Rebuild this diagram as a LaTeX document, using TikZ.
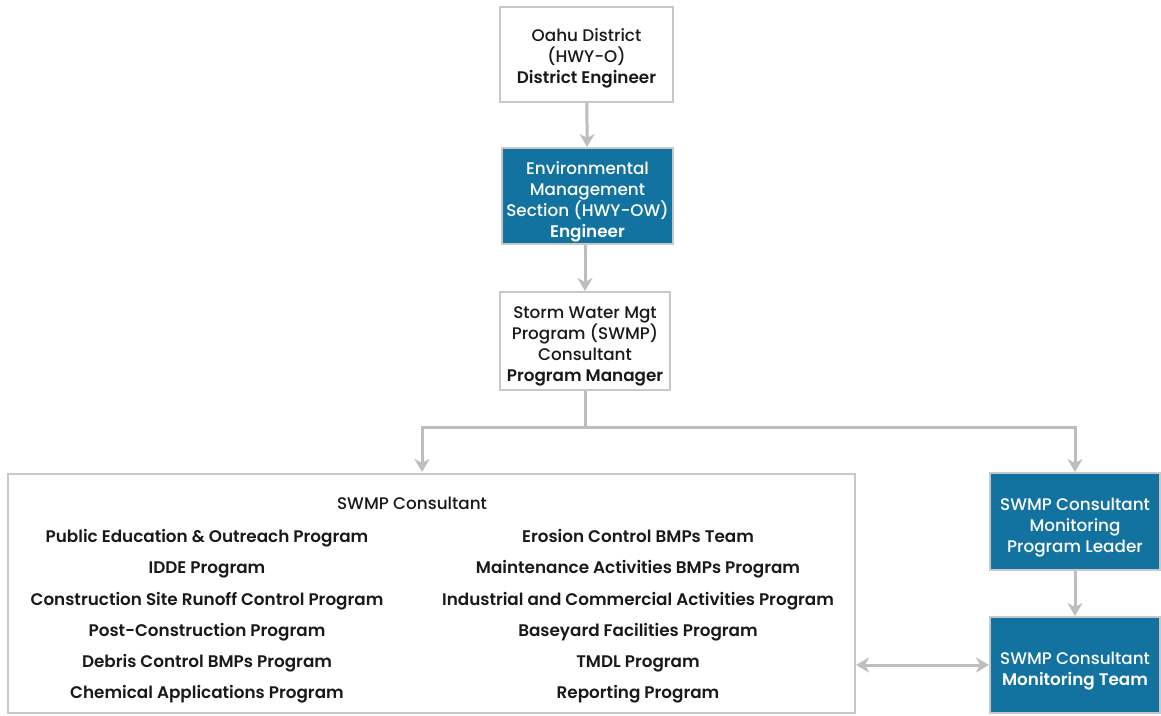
\documentclass[tikz,border=0pt]{standalone}
\usepackage{fontspec}
\setmainfont{Poppins}[UprightFont=* Medium, BoldFont=* SemiBold]
\usetikzlibrary{arrows.meta}
\definecolor{boxgray}{RGB}{200,200,200}
\definecolor{linegray}{RGB}{190,190,192}
\definecolor{bluefill}{RGB}{18,115,160}
\definecolor{txt}{RGB}{25,25,25}
\tikzset{
  box/.style={draw=boxgray, line width=2pt, fill=white, inner sep=0pt},
  bluebox/.style={box, fill=bluefill},
  boxtext/.style={text=txt, align=center, inner sep=0pt, font=\fontsize{16.8}{21}\selectfont},
  bluetext/.style={boxtext, text=white},
  item/.style={text=txt, inner sep=0pt, anchor=base, font=\fontsize{16.8}{21}\selectfont\bfseries},
  conn/.style={draw=linegray, line width=3pt},
  arr/.style={conn, -{Stealth[length=13pt,width=15pt,inset=4pt]}},
  darr/.style={conn, {Stealth[length=13pt,width=15pt,inset=4pt]}-{Stealth[length=13pt,width=15pt,inset=4pt]}}
}
\begin{document}
\begin{tikzpicture}[x=1pt,y=-1pt]
\useasboundingbox[fill=white] (0,0) rectangle (1161,715);
\node[box, minimum width=173pt, minimum height=95pt] (oahu) at (586.5,54.5) {};
\node[boxtext] (oahu-t) at ([yshift=-4pt]oahu.center)
  {Oahu District\\(HWY-O)\\\textbf{District Engineer}};
\node[bluebox, minimum width=171pt, minimum height=96pt] (env) at (587.5,196) {};
\node[bluetext] (env-t) at ([yshift=-6pt]env.center)
  {Environmental\\Management\\Section (HWY-OW)\\\textbf{Engineer}};
\node[box, minimum width=170pt, minimum height=98pt] (swmp) at (585,341) {};
\node[boxtext] (swmp-t) at ([yshift=-5pt]swmp.center)
  {Storm Water Mgt\\Program (SWMP)\\Consultant\\\textbf{Program Manager}};
\node[box, minimum width=847pt, minimum height=239pt] (big) at (431.5,593.5) {};
\node[bluebox, minimum width=170pt, minimum height=97pt] (lead) at (1075,521.5) {};
\node[bluetext] (lead-t) at ([yshift=-6pt]lead.center)
  {SWMP Consultant\\Monitoring\\Program Leader};
\node[bluebox, minimum width=170pt, minimum height=96pt] (team) at (1075,665) {};
\node[bluetext] (team-t) at ([yshift=-6pt]team.center)
  {SWMP Consultant\\\textbf{Monitoring Team}};
\node[text=txt, inner sep=0pt, anchor=base, font=\fontsize{16.8}{21}\selectfont] (title) at (412,509) {SWMP Consultant};
\node[item] (l1) at (207,542) {Public Education \& Outreach Program};
\node[item] (l2) at (207,573) {IDDE Program};
\node[item] (l3) at (207,605) {Construction Site Runoff Control Program};
\node[item] (l4) at (207,636) {Post-Construction Program};
\node[item] (l5) at (207,667) {Debris Control BMPs Program};
\node[item] (l6) at (207,698) {Chemical Applications Program};
\node[item] (r1) at (638,542) {Erosion Control BMPs Team};
\node[item] (r2) at (638,573) {Maintenance Activities BMPs Program};
\node[item] (r3) at (638,605) {Industrial and Commercial Activities Program};
\node[item] (r4) at (638,636) {Baseyard Facilities Program};
\node[item] (r5) at (638,667) {TMDL Program};
\node[item] (r6) at (638,698) {Reporting Program};
\coordinate (split) at (585,427);
\coordinate (bigtop) at (422,472);
\draw[arr] (oahu) -- (env);
\draw[arr] (env.south -| swmp) -- (swmp);
\draw[conn] (swmp.south) -- (split);
\draw[arr] (split) -| (bigtop);
\draw[arr] (split) -| (lead.north);
\draw[arr] (lead) -- (team);
\draw[darr] (big.east |- team) -- (team.west);
\end{tikzpicture}
\end{document}
